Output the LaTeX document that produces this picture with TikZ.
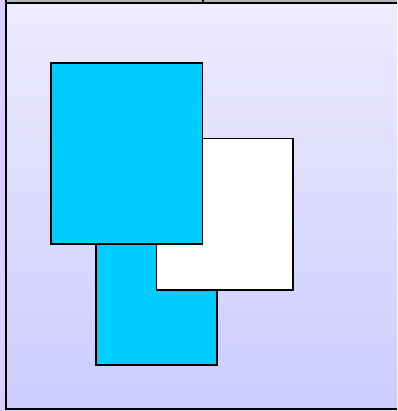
\documentclass[tikz,border=0pt]{standalone}
\begin{document}
\begin{tikzpicture}[x=1pt,y=-1pt,
  box/.style={draw=black,line width=1.6pt},
  frameline/.style={draw=black,line width=1.8pt}]
\definecolor{topc}{HTML}{EDEBFE}
\definecolor{botc}{HTML}{CCCCFF}
\definecolor{cyanb}{HTML}{00CCFF}
\definecolor{strip}{HTML}{DACFFF}
\definecolor{barc}{HTML}{B4B4BE}
\useasboundingbox (0,0) rectangle (397,411);
\fill[strip] (0,0) rectangle (397,411);
\shade[top color=topc,bottom color=botc] (6,3) rectangle (397,409);
\fill[barc] (6,0) rectangle (397,2.5);
\draw[frameline] (6,0) -- (6,409) -- (397,409);
\draw[frameline] (6,3) -- (397,3);
\draw[line width=1.6pt] (203,0) -- (203,3);
\draw[box,fill=cyanb] (96,200) rectangle (217,365);
\draw[box,fill=white] (156.5,138.5) rectangle (293,290);
\draw[box,fill=cyanb] (51,63) rectangle (202.5,244);
\end{tikzpicture}
\end{document}
